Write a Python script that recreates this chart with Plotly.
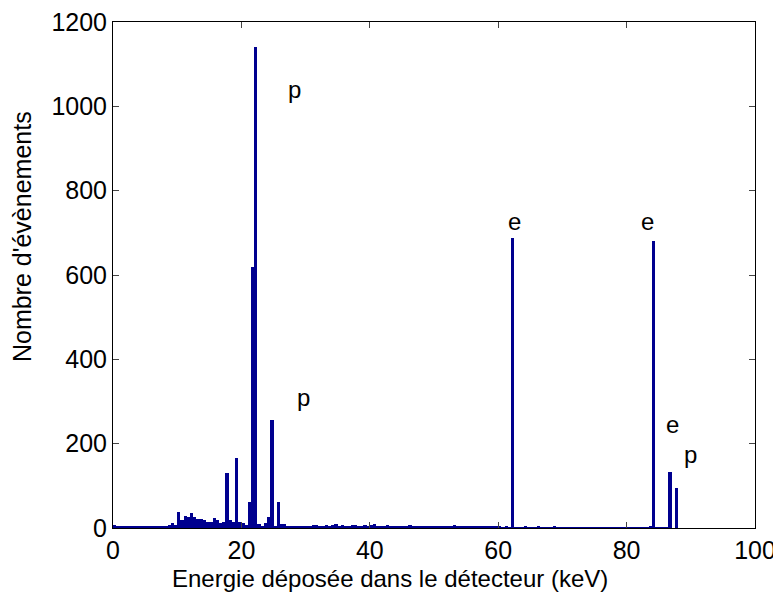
import plotly.graph_objects as go

# 0.5 keV bins, left edges from 0 to 99.5
bin_width = 0.5
counts_0_10 = [7, 5, 4, 5, 4, 4, 3, 4, 5, 4, 3, 4, 4, 3, 3, 4, 5, 6, 12, 6]
counts_10_20 = [38, 20, 28, 26, 35, 26, 22, 21, 20, 15, 14, 24, 18, 12, 14, 130, 18, 14, 165, 14]
counts_20_30 = [12, 8, 62, 620, 1140, 10, 5, 12, 25, 255, 5, 62, 10, 9, 5, 4, 5, 4, 5, 4]
counts_30_40 = [5, 4, 6, 8, 5, 4, 6, 5, 7, 10, 5, 6, 5, 4, 6, 7, 5, 4, 8, 5]
counts_40_50 = [6, 9, 5, 4, 5, 6, 4, 5, 3, 4, 5, 4, 6, 4, 3, 4, 5, 3, 4, 5]
counts_50_60 = [4, 3, 5, 4, 3, 4, 6, 4, 3, 4, 5, 3, 4, 3, 4, 3, 4, 5, 3, 4]
counts_60_70 = [3, 2, 3, 2, 688, 2, 1, 2, 3, 1, 2, 2, 3, 1, 2, 1, 2, 3, 1, 2]
counts_70_80 = [1, 2, 1, 2, 1, 1, 2, 1, 1, 2, 1, 1, 2, 1, 1, 2, 1, 1, 2, 1]
counts_80_90 = [1, 1, 2, 1, 1, 2, 1, 5, 681, 1, 1, 1, 1, 133, 0, 95, 0, 0, 0, 0]
counts_90_100 = [0] * 20

counts = (counts_0_10 + counts_10_20 + counts_20_30 + counts_30_40 + counts_40_50
          + counts_50_60 + counts_60_70 + counts_70_80 + counts_80_90 + counts_90_100)
centers = [bin_width * (i + 0.5) for i in range(len(counts))]

# peak labels
label_text = ["p", "p", "e", "e", "e", "p"]
label_x = [28.3, 29.6, 62.5, 83.3, 87.1, 89.9]
label_y = [1040, 310, 726, 726, 246, 175]

x_ticks = [0, 20, 40, 60, 80, 100]
y_ticks = [0, 200, 400, 600, 800, 1000, 1200]

FONT = "Liberation Sans, Arial, sans-serif"
BLUE = "rgb(0,0,143)"

fig = go.Figure()
fig.add_trace(go.Bar(
    x=centers, y=counts, width=bin_width,
    marker=dict(color=BLUE, line=dict(width=0)),
    showlegend=False,
))

for t, lx, ly in zip(label_text, label_x, label_y):
    fig.add_annotation(x=lx, y=ly, xref="x", yref="y", text=t, showarrow=False,
                       font=dict(family=FONT, size=24, color="black"))

# axis titles as annotations for exact placement
fig.add_annotation(x=0.431, y=-0.099, xref="paper", yref="paper",
                   text="Energie déposée dans le détecteur (keV)", showarrow=False,
                   xanchor="center", yanchor="middle",
                   font=dict(family=FONT, size=24, color="black"))
fig.add_annotation(x=-0.1417, y=0.575, xref="paper", yref="paper",
                   text="Nombre d'évènements", showarrow=False, textangle=-90,
                   xanchor="center", yanchor="middle",
                   font=dict(family=FONT, size=25, color="black"))

# page body has an 8 px margin: figure is shrunk by 8 px so the axes sit where they should
fig.update_layout(
    width=773, height=588,
    margin=dict(l=105, r=26, t=14, b=68, autoexpand=False),
    paper_bgcolor="white", plot_bgcolor="white",
    bargap=0,
    font=dict(family=FONT, size=25, color="black"),
)
fig.update_xaxes(
    range=[0, 100], tickvals=x_ticks, ticks="inside", ticklen=6,
    showline=True, linecolor="black", linewidth=1, mirror="allticks",
    showgrid=False, zeroline=False, automargin=False,
    tickfont=dict(size=25), ticklabeloverflow="allow",
)
fig.update_yaxes(
    range=[0, 1200], tickvals=y_ticks, ticks="inside", ticklen=6,
    showline=True, linecolor="black", linewidth=1, mirror="allticks",
    showgrid=False, zeroline=False, automargin=False,
    tickfont=dict(size=25), ticklabeloverflow="allow",
)

fig.write_html("out.html")
